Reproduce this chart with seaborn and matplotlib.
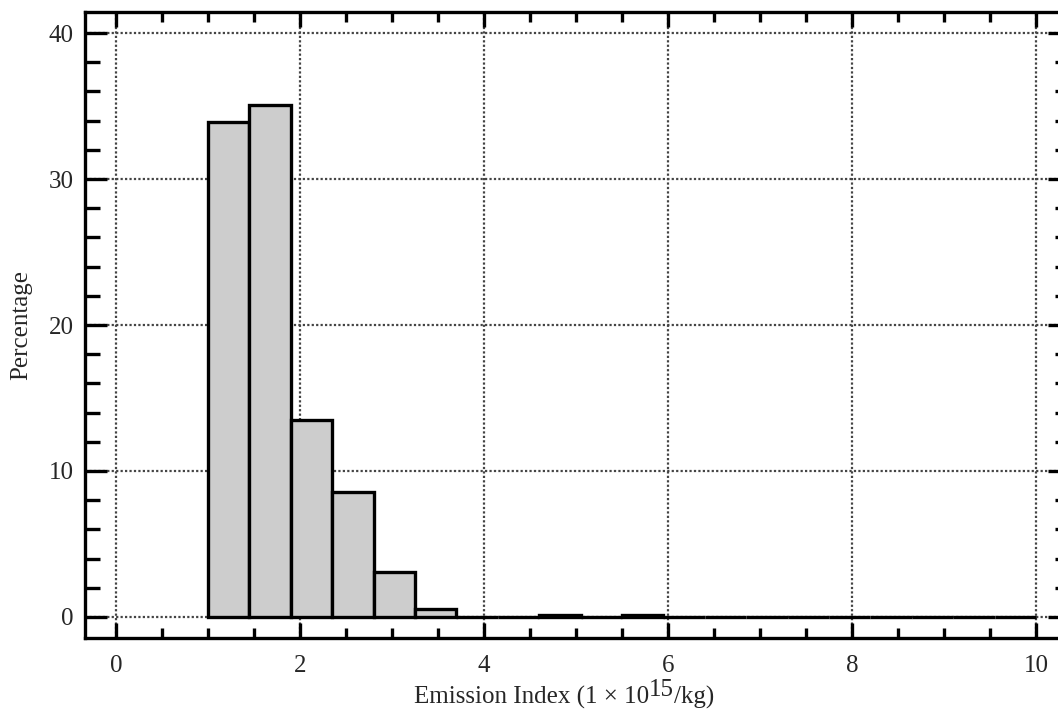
import numpy as np
import pandas as pd
import matplotlib
matplotlib.use("Agg")
import matplotlib.pyplot as plt
import seaborn as sns
from matplotlib.ticker import MultipleLocator

# ---- data ----
bin_edges = [1.0 + 0.45 * i for i in range(21)]
percentages = [33.9, 35.1, 13.5, 8.55, 3.1, 0.55, 0.0, 0.0, 0.15, 0.0,
               0.15, 0.0, 0.0, 0.0, 0.0, 0.0, 0.0, 0.0, 0.0, 0.0]
x_ticks = [0, 2, 4, 6, 8, 10]
y_ticks = [0, 10, 20, 30, 40]
xlabel_main = "Emission Index (1 \u00d7 10"
xlabel_sup = "15"
xlabel_tail = "/kg)"
ylabel = "Percentage"

centers = [(bin_edges[i] + bin_edges[i + 1]) / 2 for i in range(len(percentages))]
df = pd.DataFrame({"ei": centers, "pct": percentages})

sns.set_theme(style="white")
plt.rcParams["font.family"] = ["Liberation Serif", "DejaVu Serif"]

W, H = 1058, 717
fig = plt.figure(figsize=(W / 100, H / 100), dpi=100)
ax = fig.add_axes([85 / W, 79 / H, 985 / W, 626 / H])

fill = "#cdcdcd"
sns.histplot(data=df, x="ei", weights="pct", bins=bin_edges, stat="count",
             element="bars", fill=True, color=fill, alpha=1.0,
             edgecolor="black", linewidth=2.4, ax=ax)
for p in ax.patches:
    p.set_facecolor(fill)
    p.set_edgecolor("black")
    p.set_linewidth(2.4)
    p.set_zorder(3)

ax.set_xlim(-0.337, 10.37)
ax.set_ylim(-1.44, 41.44)
ax.set_xticks(x_ticks)
ax.set_yticks(y_ticks)
ax.xaxis.set_minor_locator(MultipleLocator(0.5))
ax.yaxis.set_minor_locator(MultipleLocator(2))

ax.grid(True, which="major", color="#444444", linestyle=(0, (1, 1)), linewidth=1.6, zorder=0)
ax.set_axisbelow(True)

for s in ax.spines.values():
    s.set_linewidth(2.4)
    s.set_color("black")
    s.set_visible(True)

fs = 18
ax.tick_params(axis="both", which="both", direction="in", width=2.4, color="black",
               labelsize=fs, top=True, right=True, bottom=True, left=True)
ax.tick_params(axis="x", which="major", length=11, pad=12)
ax.tick_params(axis="x", which="minor", length=7.5)
ax.tick_params(axis="y", which="major", length=16, pad=8)
ax.tick_params(axis="y", which="minor", length=11)

ax.set_xlabel("")
ax.set_ylabel(ylabel, fontsize=fs, labelpad=12)

# x label with full-size raised exponent
t1 = fig.text(414 / W, 13 / H, xlabel_main, fontsize=fs, ha="left", va="baseline")
t2 = ax.annotate(xlabel_sup, xy=(1, 0), xycoords=t1, xytext=(0, 6.0),
                 textcoords="offset points", fontsize=fs, ha="left", va="bottom",
                 annotation_clip=False)
t3 = ax.annotate(xlabel_tail, xy=(1, 0), xycoords=(t2, t1), fontsize=fs,
                 ha="left", va="bottom", annotation_clip=False)

fig.savefig("out.png", dpi=100)
